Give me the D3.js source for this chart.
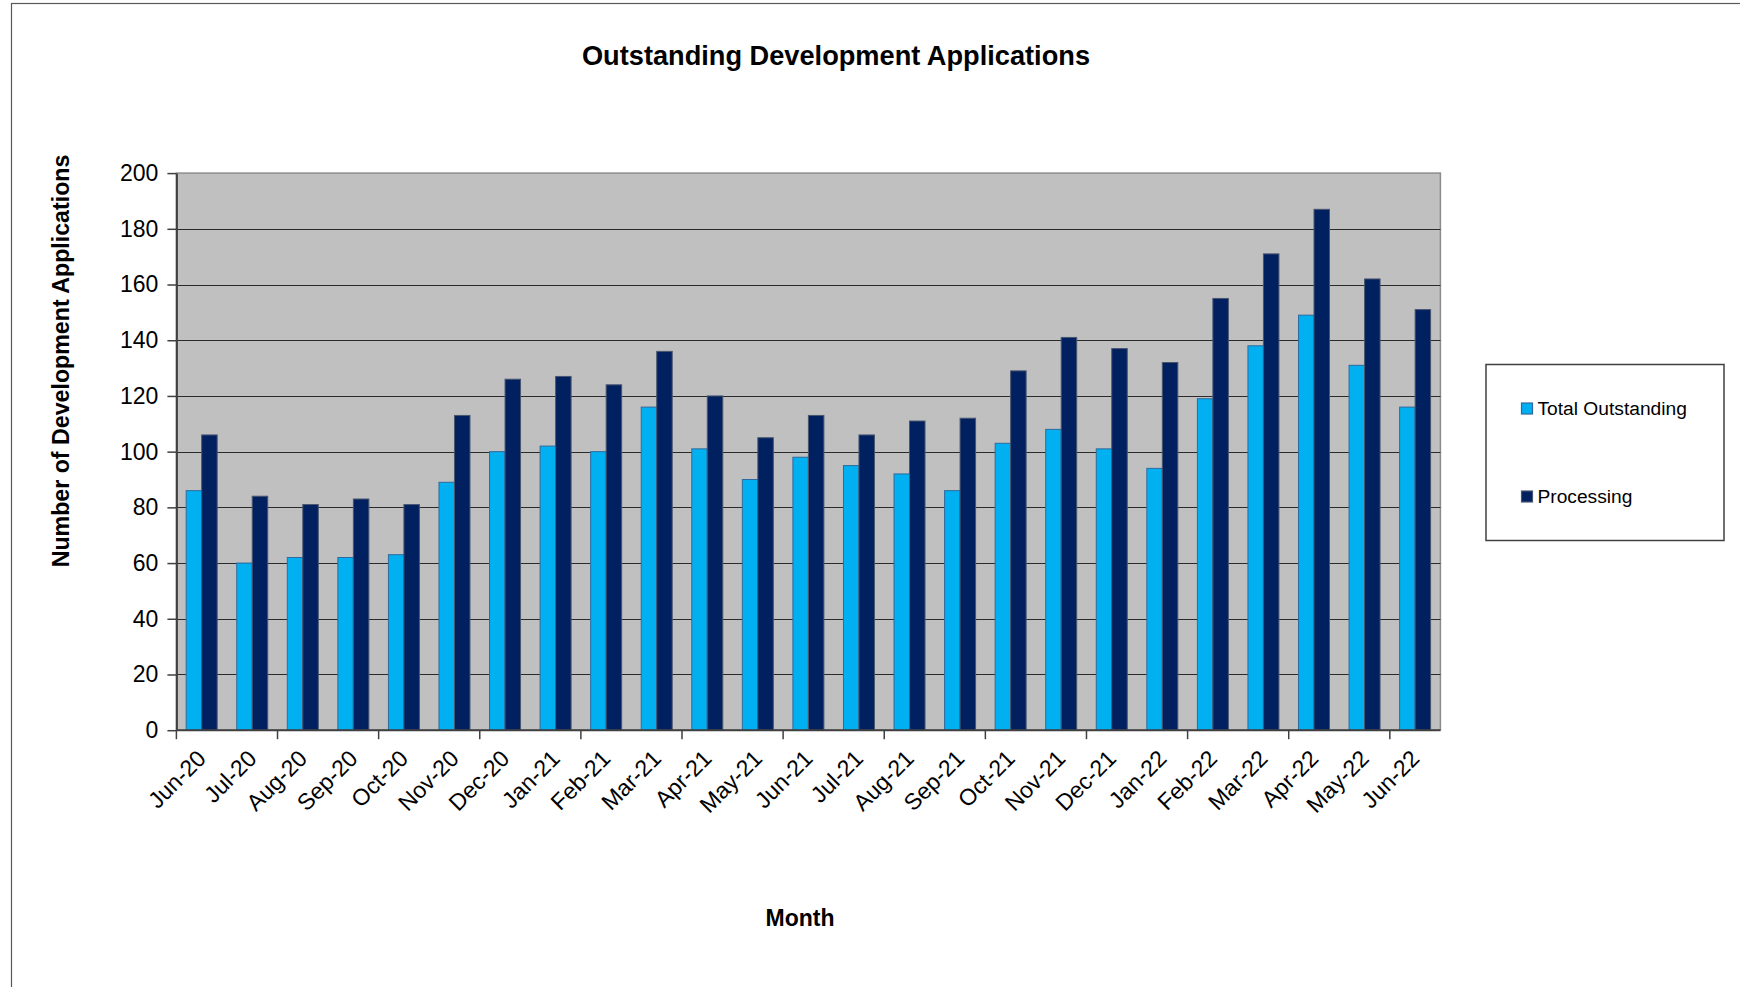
<!DOCTYPE html>
<html>
<head>
<meta charset="utf-8">
<script src="https://cdn.jsdelivr.net/npm/d3@7"></script>
<style>
  html, body { margin: 0; padding: 0; background: #fff; }
  svg { display: block; font-family: "Liberation Sans", Arial, sans-serif; }
</style>
</head>
<body>
<svg id="chart" width="1740" height="987"></svg>
<script>
const months = ["Jun-20","Jul-20","Aug-20","Sep-20","Oct-20","Nov-20","Dec-20","Jan-21","Feb-21","Mar-21","Apr-21","May-21","Jun-21","Jul-21","Aug-21","Sep-21","Oct-21","Nov-21","Dec-21","Jan-22","Feb-22","Mar-22","Apr-22","May-22","Jun-22"];
const totalOutstanding = [86,60,62,62,63,89,100,102,100,116,101,90,98,95,92,86,103,108,101,94,119,138,149,131,116];
const processing = [106,84,81,83,81,113,126,127,124,136,120,105,113,106,111,112,129,141,137,132,155,171,187,162,151];
const seriesNames = ["Total Outstanding","Processing"];
const seriesColors = ["#00B0F0","#002060"];
const seriesStrokes = ["#2f6a9e","#4a5670"];
const yTicks = [0,20,40,60,80,100,120,140,160,180,200];

const svg = d3.select("#chart");
const plot = {left: 176.4, right: 1440.4, top: 173.1, bottom: 730.2};

// outer chart frame
svg.append("rect").attr("x", 11.5).attr("y", 3.5).attr("width", 1800).attr("height", 1100)
  .attr("fill", "#fff").attr("stroke", "#595959").attr("stroke-width", 1.2);

const x = d3.scaleBand().domain(months).range([plot.left, plot.right]).paddingInner(0.387).paddingOuter(0.1935);
const xs = d3.scaleBand().domain(seriesNames).range([0, x.bandwidth()]).padding(0);
const y = d3.scaleLinear().domain([0, 200]).range([plot.bottom, plot.top]);

// plot background
svg.append("rect").attr("x", plot.left).attr("y", plot.top)
  .attr("width", plot.right - plot.left).attr("height", plot.bottom - plot.top)
  .attr("fill", "#C0C0C0").attr("stroke", "#8c8c8c").attr("stroke-width", 1.5);

// gridlines
svg.append("g").selectAll("line").data(yTicks.filter(d => d > 0 && d < 200)).join("line")
  .attr("x1", plot.left).attr("x2", plot.right)
  .attr("y1", d => Math.round(y(d)) + 0.5).attr("y2", d => Math.round(y(d)) + 0.5)
  .attr("stroke", "#2a2a2a").attr("stroke-width", 1.2);

// bars
const data = months.map((m, i) => ({month: m, values: [totalOutstanding[i], processing[i]]}));
const groups = svg.append("g").selectAll("g").data(data).join("g")
  .attr("transform", d => `translate(${x(d.month)},0)`);
groups.selectAll("rect").data(d => d.values.map((v, k) => ({k, v}))).join("rect")
  .attr("x", d => xs(seriesNames[d.k]))
  .attr("y", d => y(d.v))
  .attr("width", xs.bandwidth())
  .attr("height", d => y(0) - y(d.v))
  .attr("fill", d => seriesColors[d.k])
  .attr("stroke", d => seriesStrokes[d.k])
  .attr("stroke-width", 1);

// y axis
const yAxis = svg.append("g").attr("transform", `translate(${plot.left},0)`)
  .call(d3.axisLeft(y).tickValues(yTicks).tickSize(9).tickPadding(9).tickSizeOuter(0));
yAxis.select(".domain").attr("stroke", "#404040").attr("stroke-width", 2);
yAxis.selectAll(".tick line").attr("stroke", "#404040").attr("stroke-width", 1.5);
yAxis.selectAll(".tick text").attr("font-size", 23).attr("fill", "#000")
  .attr("font-family", "Liberation Sans, Arial, sans-serif");

// x axis line
svg.append("line").attr("x1", plot.left).attr("x2", plot.right)
  .attr("y1", plot.bottom).attr("y2", plot.bottom)
  .attr("stroke", "#404040").attr("stroke-width", 2);

// x ticks every 2 categories at boundaries
const boundaryIdx = d3.range(0, months.length, 2);
svg.append("g").selectAll("line").data(boundaryIdx).join("line")
  .attr("x1", i => x(months[i]) - x.step() * x.paddingInner() / 2)
  .attr("x2", i => x(months[i]) - x.step() * x.paddingInner() / 2)
  .attr("y1", plot.bottom).attr("y2", plot.bottom + 9)
  .attr("stroke", "#404040").attr("stroke-width", 1.5);

// x labels
svg.append("g").selectAll("text").data(months).join("text")
  .attr("transform", d => `translate(${x(d) + x.bandwidth() / 2 - 6},${plot.bottom + 18}) rotate(-45)`)
  .attr("text-anchor", "end").attr("dy", "0.72em")
  .attr("font-size", 23).attr("fill", "#000")
  .text(d => d);

// title
svg.append("text").attr("x", 836).attr("y", 55.5).attr("dy", "0.36em")
  .attr("text-anchor", "middle").attr("font-size", 27.2).attr("font-weight", "bold")
  .text("Outstanding Development Applications");

// axis titles
svg.append("text").attr("transform", "translate(61,361) rotate(-90)").attr("dy", "0.36em")
  .attr("text-anchor", "middle").attr("font-size", 23.2).attr("font-weight", "bold")
  .text("Number of Development Applications");
svg.append("text").attr("x", 800).attr("y", 918).attr("dy", "0.36em")
  .attr("text-anchor", "middle").attr("font-size", 23).attr("font-weight", "bold")
  .text("Month");

// legend
const lg = svg.append("g");
lg.append("rect").attr("x", 1486).attr("y", 364.5).attr("width", 238).attr("height", 176)
  .attr("fill", "#fff").attr("stroke", "#404040").attr("stroke-width", 1.5);
const legendY = [408.5, 496.5];
seriesNames.forEach((name, k) => {
  lg.append("rect").attr("x", 1521.5).attr("y", legendY[k] - 5.5).attr("width", 11).attr("height", 11)
    .attr("fill", seriesColors[k]).attr("stroke", seriesStrokes[k]).attr("stroke-width", 1.2);
  lg.append("text").attr("x", 1537.5).attr("y", legendY[k]).attr("dy", "0.36em")
    .attr("font-size", 19.2).attr("fill", "#000").text(name);
});
</script>
</body>
</html>
